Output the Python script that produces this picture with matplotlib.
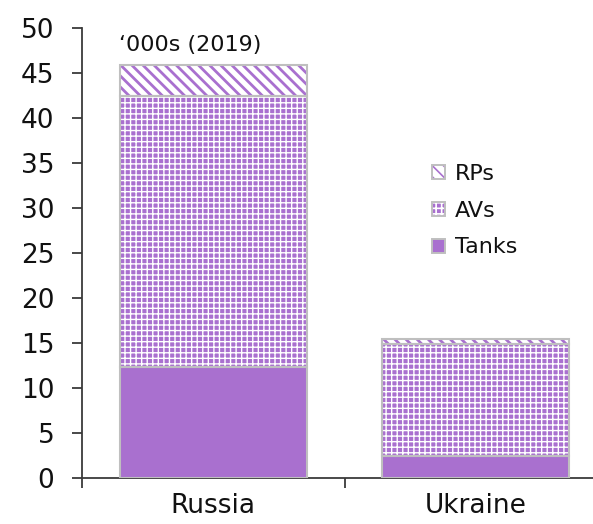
import matplotlib
matplotlib.use("Agg")
import matplotlib.pyplot as plt
from matplotlib.patches import Patch
from matplotlib.legend_handler import HandlerTuple
import numpy as np

# Heavy weapons holdings, thousands of units (2019)
countries = ["Russia", "Ukraine"]
tanks = [12.3, 2.5]
avs = [30.2, 12.4]
rps = [3.4, 0.5]
y_ticks = [0, 5, 10, 15, 20, 25, 30, 35, 40, 45, 50]

purple = "#a970cf"
edge_gray = "#bfbfbf"
axis_col = "#3a3a3a"

plt.rcParams["font.family"] = ["DejaVu Sans"]
plt.rcParams["hatch.linewidth"] = 1.2

fig = plt.figure(figsize=(5.93, 5.24), dpi=100)
ax = fig.add_axes([82 / 593, 46 / 524, 525 / 593, 450 / 524])

x = np.arange(len(countries))
width = 0.714


def set_hlw(patches, lw):
    for p in patches:
        if hasattr(p, "set_hatch_linewidth"):
            p.set_hatch_linewidth(lw)


# each segment: (values, face colour, hatch colour, hatch, hatch width)
segments = [
    (tanks, purple, purple, None, 0),
    (avs, purple, "white", "+++", 1.0),
    (rps, "white", purple, "\\\\\\", 2.0),
]

bottom = np.zeros(len(countries))
for vals, face, hcol, hatch, hlw in segments:
    vals = np.array(vals)
    ax.bar(x, vals, width, bottom=bottom, color=face, edgecolor="none", zorder=2)
    if hatch:
        bars = ax.bar(x, vals, width, bottom=bottom, facecolor="none",
                      edgecolor=hcol, hatch=hatch, linewidth=0, zorder=3)
        set_hlw(bars, hlw)
    ax.bar(x, vals, width, bottom=bottom, facecolor="none", edgecolor=edge_gray,
           linewidth=1.5, zorder=4)
    bottom += vals

ax.set_xlim(-0.5, 1.5)
ax.set_ylim(0, 50)
ax.set_yticks(y_ticks)
ax.set_yticklabels([str(v) for v in y_ticks])
ax.set_xticks(x)
ax.set_xticklabels(countries)
ax.set_xticks([-0.5, 0.5, 1.5], minor=True)

for side in ["top", "right"]:
    ax.spines[side].set_visible(False)
for side in ["left", "bottom"]:
    ax.spines[side].set_color(axis_col)
    ax.spines[side].set_linewidth(1.3)

ax.tick_params(axis="y", direction="out", length=7, width=1.3, color=axis_col,
               pad=13, labelsize=19, labelcolor="#111111")
ax.tick_params(axis="x", which="major", length=0, pad=11, labelsize=19,
               labelcolor="#111111")
ax.tick_params(axis="x", which="minor", direction="out", length=7, width=1.3,
               color=axis_col)

ax.text(0.071, 0.962, "\u2018000s (2019)", transform=ax.transAxes, fontsize=16,
        ha="left", va="center", color="#111111")

# legend swatches drawn in the same styles as the bar segments, with a grey border
rp_fill = Patch(facecolor="white", edgecolor=purple, hatch="\\\\\\", linewidth=0)
av_fill = Patch(facecolor=purple, edgecolor="white", hatch="+++", linewidth=0)
set_hlw([rp_fill], 2.0)
set_hlw([av_fill], 1.0)
border = Patch(facecolor="none", edgecolor=edge_gray, linewidth=1.4)
tank_handle = Patch(facecolor=purple, edgecolor=edge_gray, linewidth=1.4)
handles = [(rp_fill, border), (av_fill, border), tank_handle]
labels = ["RPs", "AVs", "Tanks"]
leg = ax.legend(handles, labels, loc="upper left", bbox_to_anchor=(0.628, 0.742),
                frameon=False, fontsize=16, handlelength=0.6, handleheight=0.6,
                handletextpad=0.45, labelspacing=0.75,
                handler_map={tuple: HandlerTuple(ndivide=1)})
for t in leg.get_texts():
    t.set_color("#111111")

fig.savefig("out.png", dpi=100)
